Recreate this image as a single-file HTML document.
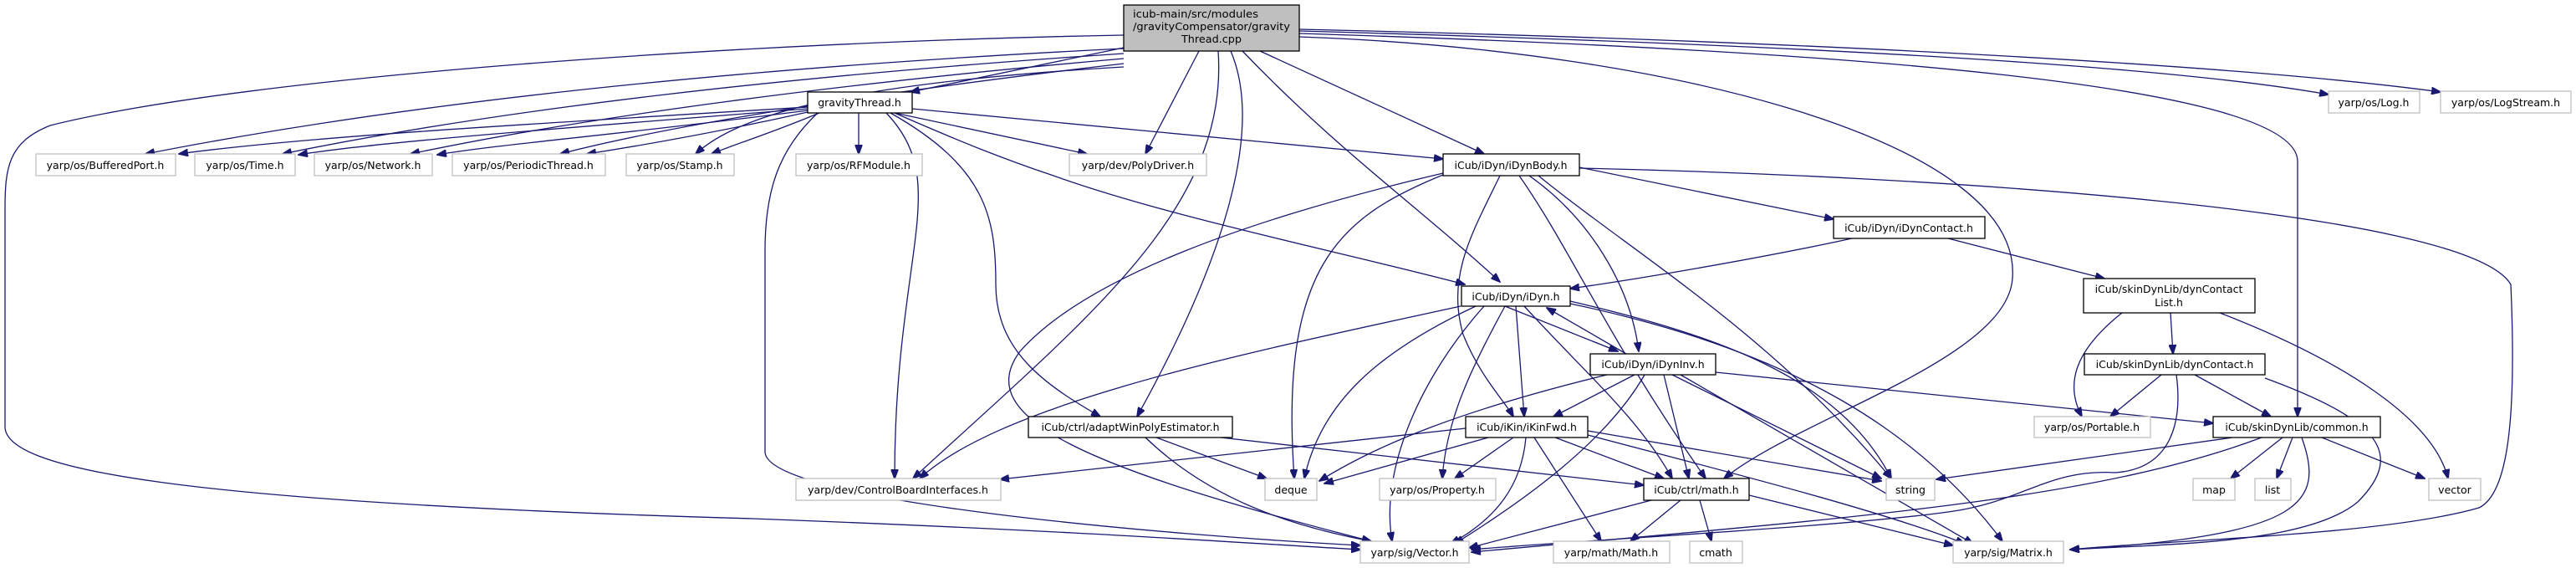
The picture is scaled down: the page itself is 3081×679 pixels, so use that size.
<!DOCTYPE html>
<html><head><meta charset="utf-8"><style>
html,body{margin:0;padding:0;background:#fff;}
svg{display:block;}
text{font-family:"DejaVu Sans","Liberation Sans",sans-serif;font-size:12.5px;fill:#000;}
.e{fill:none;stroke:#191970;stroke-width:1.3;marker-end:url(#a);}
.n{fill:#fff;stroke:#000;stroke-width:1.3;}
.x{fill:#fff;stroke:#bfbfbf;stroke-width:1.3;}
</style></head><body>
<svg width="3081" height="679" viewBox="0 0 3081 679" xmlns="http://www.w3.org/2000/svg">
<defs><marker id="a" markerWidth="12" markerHeight="9" refX="11" refY="4.5" orient="auto" markerUnits="userSpaceOnUse"><path d="M0,0 L12,4.5 L0,9 z" fill="#191970" stroke="#191970"/></marker></defs>

<!-- main edges -->
<path class="e" d="M1344,42 C900,50 300,90 60,150 C10,170 6,200 6,250 L6,510 C6,560 200,600 900,620 C1300,635 1500,650 1627,657"/>
<path class="e" d="M1344,58 C900,80 500,120 174,184"/>
<path class="e" d="M1344,64 C950,90 600,130 338,184"/>
<path class="e" d="M1344,70 C1000,100 700,140 491,184"/>
<path class="e" d="M1344,76 C1050,110 800,150 670,184"/>
<path class="e" d="M1344,80 C1000,100 880,140 832,184"/>
<path class="e" d="M1344,57 L1089,110"/>
<path class="e" d="M1434,61 L1370,184"/>
<path class="e" d="M1457,61 C1470,250 1300,380 1092,572"/>
<path class="e" d="M1472,61 C1510,150 1470,300 1360,498"/>
<path class="e" d="M1486,61 C1600,180 1700,250 1794,337"/>
<path class="e" d="M1507,61 L1775,184"/>
<path class="e" d="M1554,44 C2000,60 2420,170 2407,333 C2400,430 2150,500 2062,572"/>
<path class="e" d="M1554,40 C2200,60 2748,100 2748,193 L2748,498"/>
<path class="e" d="M1554,37 C2200,55 2600,80 2785,113"/>
<path class="e" d="M1554,35 C2200,50 2700,80 2919,110"/>

<!-- gravityThread edges -->
<path class="e" d="M966,128 C600,150 350,165 214,184"/>
<path class="e" d="M966,130 C650,155 450,170 357,185"/>
<path class="e" d="M966,132 C750,160 600,172 523,185"/>
<path class="e" d="M966,134 C850,160 760,175 702,184"/>
<path class="e" d="M980,135 C920,160 880,172 851,184"/>
<path class="e" d="M1027,135 L1027,184"/>
<path class="e" d="M1070,135 L1300,184"/>
<path class="e" d="M1091,130 L1726,190"/>
<path class="e" d="M1070,135 C1150,170 1200,190 1260,210 C1400,260 1600,300 1752,340"/>
<path class="e" d="M1060,135 C1140,220 1070,300 1070,572"/>
<path class="e" d="M1065,135 C1180,200 1191,260 1191,340 C1191,420 1250,460 1316,498"/>
<path class="e" d="M978,135 C930,180 915,230 915,300 L915,540 C915,600 1400,640 1627,652"/>

<!-- iDynBody edges -->
<path class="e" d="M1889,200 L2193,262"/>
<path class="e" d="M1889,201 C2300,210 2950,250 3003,340 C3010,500 3000,590 2965,607 C2850,640 2600,645 2476,657"/>
<path class="e" d="M1794,210 C1760,280 1730,330 1750,400 C1770,450 1800,480 1810,498"/>
<path class="e" d="M1829,210 C1900,260 1950,340 1960,420"/>
<path class="e" d="M1840,210 C1950,300 2120,400 2262,572"/>
<path class="e" d="M1817,210 C1880,300 1920,400 2040,572"/>
<path class="e" d="M1726,209 C1600,260 1530,320 1548,572"/>
<path class="e" d="M1726,207 C1500,260 1300,330 1220,420 C1160,500 1300,560 1640,647"/>

<!-- iDynContact -->
<path class="e" d="M2215,285 C2100,310 1950,335 1878,345"/>
<path class="e" d="M2330,285 L2517,333"/>

<!-- dynContactList -->
<path class="e" d="M2596,374 L2599,423"/>
<path class="e" d="M2538,374 C2480,420 2470,460 2490,498"/>
<path class="e" d="M2655,374 C2800,430 2910,500 2928,572"/>

<!-- dynContact -->
<path class="e" d="M2585,448 L2524,498"/>
<path class="e" d="M2625,448 L2716,498"/>
<path class="e" d="M2709,452 C2840,500 2880,540 2820,600 C2760,650 2600,650 2476,657"/>
<path class="e" d="M2603,448 C2610,500 2600,560 2530,565 C2450,560 2420,600 2330,612 C2200,630 1900,645 1760,657"/>

<!-- common -->
<path class="e" d="M2670,523 L2316,573"/>
<path class="e" d="M2705,523 C2500,600 2200,620 1760,660"/>
<path class="e" d="M2730,523 L2668,572"/>
<path class="e" d="M2742,523 L2723,572"/>
<path class="e" d="M2777,523 L2900,572"/>
<path class="e" d="M2753,523 C2780,600 2760,640 2476,657"/>

<!-- iDyn -->
<path class="e" d="M1800,366 L1935,420"/>
<path class="e" d="M1945,423 L1850,368"/>
<path class="e" d="M1747,366 C1500,420 1200,480 1100,572"/>
<path class="e" d="M1765,366 C1650,420 1580,480 1560,572"/>
<path class="e" d="M1775,366 C1700,450 1650,560 1665,647"/>
<path class="e" d="M1800,366 C1760,440 1730,500 1725,572"/>
<path class="e" d="M1813,366 L1823,498"/>
<path class="e" d="M1823,366 C1900,450 1960,500 2000,572"/>
<path class="e" d="M1878,360 C2050,400 2200,450 2262,572"/>
<path class="e" d="M1878,363 C2150,420 2300,520 2395,647"/>

<!-- iDynInv -->
<path class="e" d="M1922,448 C1750,490 1650,530 1578,575"/>
<path class="e" d="M1955,448 L1858,498"/>
<path class="e" d="M1967,448 C1920,530 1820,600 1740,650"/>
<path class="e" d="M1990,448 L2020,572"/>
<path class="e" d="M2000,448 L2250,572"/>
<path class="e" d="M2010,448 L2360,650"/>
<path class="e" d="M2052,445 L2647,506"/>

<!-- iKinFwd -->
<path class="e" d="M1753,512 L1196,573"/>
<path class="e" d="M1780,523 L1584,578"/>
<path class="e" d="M1810,523 L1740,572"/>
<path class="e" d="M1825,523 C1820,580 1790,620 1735,650"/>
<path class="e" d="M1835,523 L1915,647"/>
<path class="e" d="M1860,523 L1990,572"/>
<path class="e" d="M1899,515 L2250,575"/>
<path class="e" d="M1899,520 C2050,560 2250,610 2350,650"/>

<!-- adaptWin -->
<path class="e" d="M1383,523 L1515,572"/>
<path class="e" d="M1370,523 C1450,600 1550,630 1640,647"/>
<path class="e" d="M1460,523 L1966,580"/>

<!-- math.h -->
<path class="e" d="M1975,598 L1757,655"/>
<path class="e" d="M2010,598 L1950,647"/>
<path class="e" d="M2033,598 L2047,647"/>
<path class="e" d="M2092,592 L2336,652"/>

<!-- nodes -->
<rect x="1344" y="6" width="210" height="55" fill="#bfbfbf" stroke="#000" stroke-width="1.3"/>
<text x="1355" y="21" textLength="150" lengthAdjust="spacingAndGlyphs">icub-main/src/modules</text>
<text x="1355" y="36" textLength="188" lengthAdjust="spacingAndGlyphs">/gravityCompensator/gravity</text>
<text x="1449" y="51" text-anchor="middle" textLength="72" lengthAdjust="spacingAndGlyphs">Thread.cpp</text>

<g text-anchor="middle">
<rect class="n" x="966" y="110" width="125" height="25"/><text x="1028" y="127">gravityThread.h</text>
<rect class="x" x="43" y="184" width="167" height="26"/><text x="126" y="202">yarp/os/BufferedPort.h</text>
<rect class="x" x="233" y="184" width="120" height="26"/><text x="293" y="202">yarp/os/Time.h</text>
<rect class="x" x="376" y="184" width="141" height="26"/><text x="446" y="202">yarp/os/Network.h</text>
<rect class="x" x="541" y="184" width="183" height="26"/><text x="632" y="202">yarp/os/PeriodicThread.h</text>
<rect class="x" x="749" y="184" width="129" height="26"/><text x="813" y="202">yarp/os/Stamp.h</text>
<rect class="x" x="952" y="184" width="151" height="26"/><text x="1027" y="202">yarp/os/RFModule.h</text>
<rect class="x" x="1279" y="184" width="164" height="26"/><text x="1361" y="202">yarp/dev/PolyDriver.h</text>
<rect class="n" x="1726" y="184" width="163" height="26"/><text x="1807" y="202">iCub/iDyn/iDynBody.h</text>
<rect class="x" x="2785" y="109" width="109" height="26"/><text x="2839" y="127">yarp/os/Log.h</text>
<rect class="x" x="2919" y="109" width="156" height="26"/><text x="2997" y="127">yarp/os/LogStream.h</text>
<rect class="n" x="2193" y="259" width="181" height="26"/><text x="2283" y="277">iCub/iDyn/iDynContact.h</text>
<rect class="n" x="2492" y="333" width="205" height="41"/><text x="2594" y="350">iCub/skinDynLib/dynContact</text><text x="2594" y="366">List.h</text>
<rect class="n" x="1748" y="342" width="130" height="24"/><text x="1813" y="359">iCub/iDyn/iDyn.h</text>
<rect class="n" x="1902" y="423" width="150" height="25"/><text x="1977" y="440">iCub/iDyn/iDynInv.h</text>
<rect class="n" x="2493" y="423" width="216" height="25"/><text x="2601" y="440">iCub/skinDynLib/dynContact.h</text>
<rect class="n" x="1230" y="498" width="244" height="25"/><text x="1352" y="515">iCub/ctrl/adaptWinPolyEstimator.h</text>
<rect class="n" x="1753" y="498" width="146" height="25"/><text x="1826" y="515">iCub/iKin/iKinFwd.h</text>
<rect class="x" x="2433" y="498" width="139" height="25"/><text x="2502" y="515">yarp/os/Portable.h</text>
<rect class="n" x="2647" y="498" width="200" height="25"/><text x="2747" y="515">iCub/skinDynLib/common.h</text>
<rect class="x" x="952" y="572" width="245" height="26"/><text x="1074" y="590">yarp/dev/ControlBoardInterfaces.h</text>
<rect class="x" x="1513" y="572" width="62" height="26"/><text x="1544" y="590">deque</text>
<rect class="x" x="1650" y="572" width="139" height="26"/><text x="1719" y="590">yarp/os/Property.h</text>
<rect class="n" x="1966" y="572" width="126" height="26"/><text x="2029" y="590">iCub/ctrl/math.h</text>
<rect class="x" x="2256" y="572" width="58" height="26"/><text x="2285" y="590">string</text>
<rect class="x" x="2623" y="572" width="50" height="26"/><text x="2648" y="590">map</text>
<rect class="x" x="2697" y="572" width="43" height="26"/><text x="2718" y="590">list</text>
<rect class="x" x="2905" y="572" width="62" height="26"/><text x="2936" y="590">vector</text>
<rect class="x" x="1627" y="647" width="130" height="26"/><text x="1692" y="665">yarp/sig/Vector.h</text>
<rect class="x" x="1858" y="647" width="139" height="26"/><text x="1927" y="665">yarp/math/Math.h</text>
<rect class="x" x="2021" y="647" width="63" height="26"/><text x="2052" y="665">cmath</text>
<rect class="x" x="2336" y="647" width="132" height="26"/><text x="2402" y="665">yarp/sig/Matrix.h</text>
</g>
</svg>
</body></html>
